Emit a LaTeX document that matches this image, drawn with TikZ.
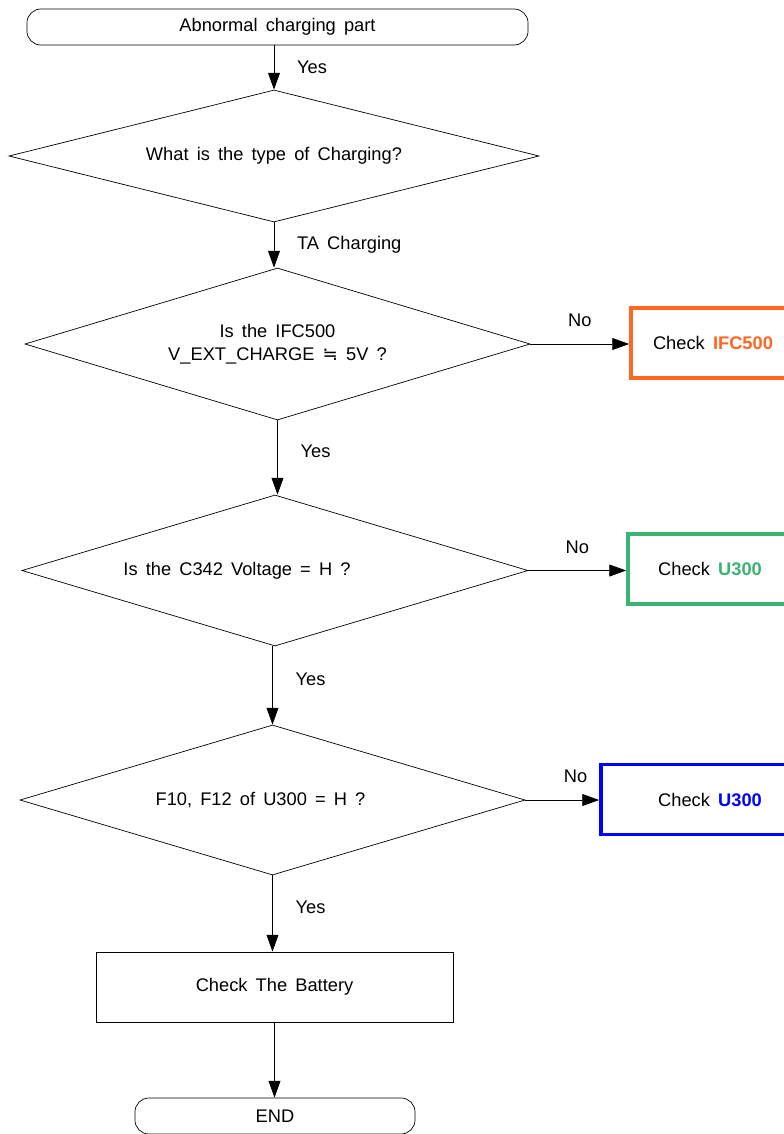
\documentclass[tikz,border=0pt]{standalone}
\usepackage{fontspec}
\setmainfont[WordSpace=1.6]{Liberation Sans}
\newfontfamily\dejavu{DejaVu Sans}
\usetikzlibrary{shapes.geometric,arrows.meta}
\definecolor{chkorange}{RGB}{255,102,34}
\definecolor{chkgreen}{RGB}{60,179,113}
\definecolor{chkblue}{RGB}{0,0,255}

\begin{document}
\begin{tikzpicture}[
    x=0.025cm, y=-0.025cm,
    font=\fontsize{13}{16}\selectfont,
    terminal/.style={draw, rounded corners=0.35cm, minimum height=0.9cm, inner sep=0pt, line width=0.5pt},
    decision/.style={diamond, draw, aspect=3.5, inner sep=0pt, line width=0.5pt},
    process/.style={draw, minimum width=8.925cm, minimum height=1.75cm, line width=0.5pt},
    checkbox/.style={draw, line width=2.6pt, minimum height=1.75cm, inner sep=0pt},
    arrow/.style={-{Triangle[length=12pt,width=8.5pt]}, line width=0.6pt},
    yeslbl/.style={right, xshift=0.45cm},
    nolbl/.style={above=0.3cm}
]
\useasboundingbox (0,0) rectangle (784,1134);
\clip (0,0) rectangle (784,1134);

% Start and end
\node[terminal, minimum width=12.525cm] (start) at (277.5,27) {Abnormal charging part};
\node[terminal, minimum width=7cm] (stop) at (275,1116) {END};

% Decisions
\node[decision, minimum width=13.25cm, minimum height=3.3cm] (d1) at (274,156) {What is the type of Charging?};
\node[decision, minimum width=12.625cm, minimum height=3.8cm, align=center] (d2) at (277.5,344) {Is the IFC500\\V\_EXT\_CHARGE {\dejavu ≒} 5V ?};
\node[decision, minimum width=12.65cm, minimum height=3.775cm] (d3) at (275,570.5) {Is the C342 Voltage = H ?\hspace*{1.9cm}};
\node[decision, minimum width=12.625cm, minimum height=3.75cm] (d4) at (272.5,800) {F10, F12 of U300 = H ?\hspace*{0.6cm}};

% Battery check
\node[process] (batt) at (274.5,987) {Check The Battery};

% Checks on the right
\node[checkbox, draw=chkorange, minimum width=4.1cm] (c1) at (713,343) {Check \textbf{\color{chkorange}IFC500}};
\node[checkbox, draw=chkgreen, minimum width=4.1cm] (c2) at (710,569) {Check \textbf{\color{chkgreen}U300}};
\node[checkbox, draw=chkblue, minimum width=5.45cm] (c3) at (710,799.5) {Check \textbf{\color{chkblue}U300}};

% Main flow
\draw[arrow] (d1.north |- start.south) -- node[yeslbl] {Yes} (d1.north);
\draw[arrow] (d1.south) -- node[yeslbl] {TA Charging} (d1.south |- d2.north);
\draw[arrow] (d2.south) -- node[yeslbl, pos=0.42] {Yes} (d2.south |- d3.north);
\draw[arrow] (d4.north |- d3.south) -- node[yeslbl, pos=0.42] {Yes} (d4.north);
\draw[arrow] (d4.south) -- node[yeslbl, pos=0.42] {Yes} (d4.south |- batt.north);
\draw[arrow] (batt.south) -- (batt.south |- stop.north);

% No branches
\draw[arrow] (d2.east) -- node[nolbl] {No} (d2.east -| c1.west);
\draw[arrow] (d3.east) -- node[nolbl] {No} (d3.east -| c2.west);
\draw[arrow] (d4.east) -- node[nolbl, pos=0.68] {No} (d4.east -| c3.west);

\end{tikzpicture}
\end{document}
